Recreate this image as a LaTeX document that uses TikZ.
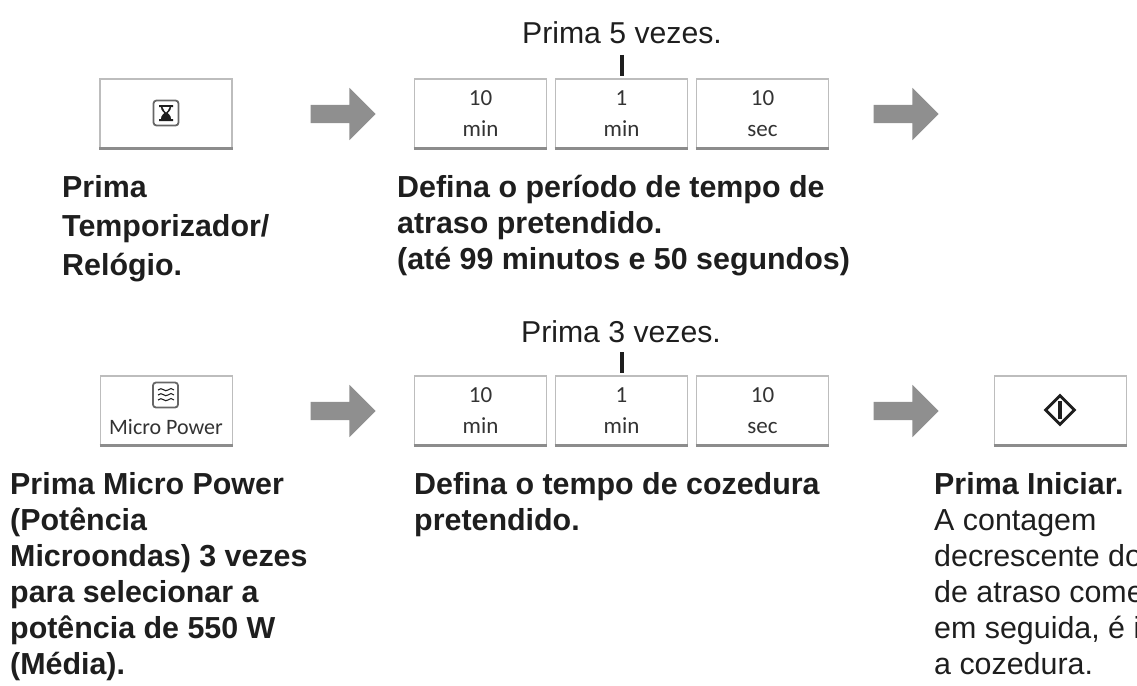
\documentclass[tikz,border=0pt]{standalone}
\usepackage{fontspec}
\setmainfont{Liberation Sans}
\newfontfamily\keyfont{Carlito}
\usetikzlibrary{shapes.arrows,shapes.geometric}
\definecolor{ink}{HTML}{1E1E1E}
\definecolor{keyedge}{HTML}{BDBDBD}
\definecolor{keyshade}{HTML}{8C8C8C}
\definecolor{arrowgrey}{HTML}{8F8F8F}
\definecolor{keyink}{HTML}{333333}
\tikzset{
  x=1pt,y=-1pt,
  keybox/.style={draw=keyedge,line width=1.8pt,fill=white,minimum width=132pt,minimum height=69pt,inner sep=0pt,
    font=\keyfont\fontsize{23}{31}\selectfont,text=keyink,align=center,
    append after command={(\tikzlastnode.south west) edge[draw=keyshade,line width=3pt] (\tikzlastnode.south east)}},
  flowarrow/.style={single arrow,fill=arrowgrey,draw=none,minimum height=65pt,inner xsep=0pt,inner ysep=9pt,
    single arrow head extend=17pt,single arrow tip angle=90,single arrow head indent=0pt,text width=0pt},
  strong/.style={anchor=north west,inner sep=0pt,align=left,text=ink,font=\bfseries\fontsize{30.4}{36}\selectfont},
  plain/.style={anchor=base,inner sep=0pt,text=ink,font=\fontsize{30.2}{36}\selectfont},
  tick/.style={draw=ink,line width=3.6pt},
  iconbox/.style={draw=keyink!75,line width=1.8pt,rounded corners=3pt,minimum size=25pt,inner sep=0pt,fill=white},
}
\begin{document}
\begin{tikzpicture}
\useasboundingbox (0,0) rectangle (1137,685);
% row 1
\node[keybox] (timer) at (166,113.5) {};
\node[iconbox] (hourglass) at (166,113) {};
\fill[ink] (159,105) -- (173,105) -- (173,107) -- (171,107) .. controls (171,111) and (168,112) .. (167.5,113) .. controls (168,114) and (171,115) .. (171,119) -- (173,119) -- (173,121) -- (159,121) -- (159,119) -- (161,119) .. controls (161,115) and (164,114) .. (164.5,113) .. controls (164,112) and (161,111) .. (161,107) -- (159,107) -- cycle;
\fill[white] (162.5,107) -- (169.5,107) .. controls (169,110) and (166.5,111.5) .. (166,112.5) .. controls (165.5,111.5) and (163,110) .. (162.5,107) -- cycle;
\node[flowarrow] (arrowA) at (338.5,114) {};
\node[keybox] (tenminA) at (480.5,113.5) {10\\min};
\node[keybox] (oneminA) at (621.5,113.5) {1\\min};
\node[keybox] (tensecA) at (762.5,113.5) {10\\sec};
\node[flowarrow] (arrowB) at (901.5,114) {};
\node[plain] (pressA) at (622,44) {Prima 5 vezes.};
\draw[tick] (622,55) coordinate (tickAtop) -- (tickAtop |- 0,76);
\node[strong] (labelA) at (62,175) {Prima\\[3pt]Temporizador/\\[3pt]Relógio.};
\node[strong] (labelB) at (397,175) {Defina o período de tempo de\\atraso pretendido.\\(até 99 minutos e 50 segundos)};
% row 2
\node[keybox] (power) at (166.5,410.5) {};
\node[iconbox] (waves) at (165.5,395) {};
\foreach \yy in {390,395,400}
  \draw[ink,line width=1.1pt] (158,\yy) .. controls (162,\yy-4) and (165,\yy+3) .. (168,\yy) .. controls (170,\yy-2) and (172,\yy-2) .. (174,\yy);
\node[inner sep=0pt,anchor=base,font=\keyfont\fontsize{22}{24}\selectfont,text=keyink] (powertext) at (166,434) {Micro Power};
\node[flowarrow] (arrowC) at (338.5,411) {};
\node[keybox] (tenminB) at (480.5,410.5) {10\\min};
\node[keybox] (oneminB) at (621.5,410.5) {1\\min};
\node[keybox] (tensecB) at (762.5,410.5) {10\\sec};
\node[flowarrow] (arrowD) at (901.5,411) {};
\node[keybox] (start) at (1060.5,410.5) {};
\node[diamond,draw=ink,line width=2.8pt,minimum width=30pt,minimum height=30pt,inner sep=0pt] (startmark) at (1060,410) {};
\draw[ink,line width=3.4pt] (1060,401) -- (1060,419);
\node[plain] (pressB) at (621,342) {Prima 3 vezes.};
\draw[tick] (622,352) coordinate (tickBtop) -- (tickBtop |- 0,373);
\node[strong] (labelC) at (10,472) {Prima Micro Power\\(Potência\\Microondas) 3 vezes\\para selecionar a\\potência de 550 W\\(Média).};
\node[strong] (labelD) at (414,472) {Defina o tempo de cozedura\\pretendido.};
\node[strong] (labelE) at (934,472) {Prima Iniciar.\\\mdseries A contagem\\\mdseries decrescente do\\\mdseries de atraso come\\\mdseries em seguida, é i\\\mdseries a cozedura.};
\end{tikzpicture}
\end{document}
